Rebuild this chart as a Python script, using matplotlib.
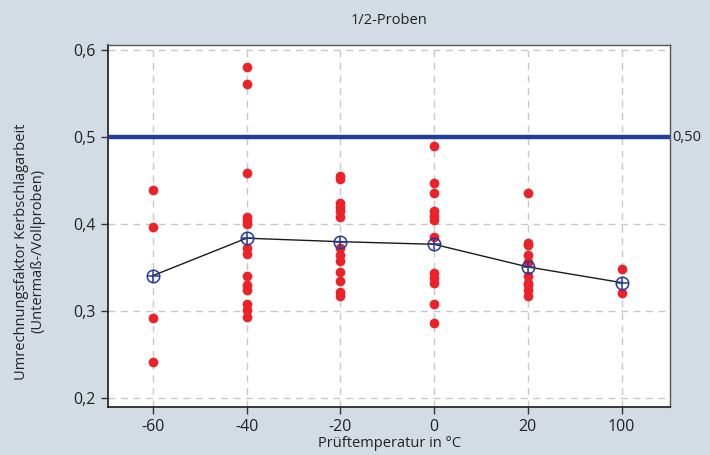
import matplotlib
matplotlib.use("Agg")
import matplotlib.pyplot as plt
from matplotlib.ticker import FuncFormatter

plt.rcParams['font.family'] = ['Open Sans', 'DejaVu Sans']

categories = ["-60", "-40", "-20", "0", "20", "100"]
values_m60 = [0.439, 0.397, 0.292, 0.242]
values_m40 = [0.581, 0.561, 0.459, 0.408, 0.404, 0.400, 0.373, 0.366, 0.340,
              0.330, 0.325, 0.308, 0.302, 0.293]
values_m20 = [0.456, 0.452, 0.425, 0.420, 0.415, 0.408, 0.373, 0.365, 0.358,
              0.345, 0.335, 0.322, 0.318]
values_0 = [0.490, 0.447, 0.436, 0.415, 0.410, 0.405, 0.385, 0.344, 0.338,
            0.332, 0.308, 0.287]
values_20 = [0.436, 0.379, 0.376, 0.365, 0.357, 0.340, 0.333, 0.330, 0.325, 0.318]
values_100 = [0.349, 0.321]
groups = [values_m60, values_m40, values_m20, values_0, values_20, values_100]
means = [0.341, 0.384, 0.380, 0.377, 0.351, 0.333]
reference = 0.50

bg = '#d3dce4'
fig = plt.figure(figsize=(7.1, 4.55), dpi=100, facecolor=bg)
ax = fig.add_axes([0.152, 0.1055, 0.792, 0.7955])
ax.set_facecolor('white')

for i, vals in enumerate(groups):
    ax.plot([i] * len(vals), vals, 'o', color='#ec2228', markersize=7,
            markeredgewidth=0, zorder=3)

xs = list(range(len(categories)))
ax.plot(xs, means, '-', color='#1a1a1a', lw=1.0, zorder=4)
ax.plot(xs, means, 'o', mfc='none', mec='#25399a', mew=1.1, markersize=9, zorder=5)
ax.plot(xs, means, '+', color='#25399a', mew=1.1, markersize=9, zorder=5)

ax.axhline(reference, color='#213e99', lw=3.2, zorder=6)
ax.text(1.003, reference, "0,50", transform=ax.get_yaxis_transform(),
        va='center', ha='left', fontsize=10.5, color='#222222')

ax.set_xticks(xs)
ax.set_xticklabels(categories)
ax.set_xlim(-0.48, 5.52)
ax.set_ylim(0.19, 0.606)
ax.set_yticks([0.2, 0.3, 0.4, 0.5, 0.6])
ax.yaxis.set_major_formatter(FuncFormatter(lambda v, p: f"{v:.1f}".replace('.', ',')))

ax.grid(True, color='#c8c8c8', ls=(0, (5, 4)), lw=1.0, zorder=0)
ax.set_axisbelow(True)
for s in ['left', 'bottom']:
    ax.spines[s].set_color('#1a1a1a')
    ax.spines[s].set_linewidth(1.2)
for s in ['top', 'right']:
    ax.spines[s].set_color('#555555')
    ax.spines[s].set_linewidth(1.0)
ax.tick_params(axis='both', direction='out', length=5, width=1, color='#333333',
               labelsize=11.5, labelcolor='#222222')

ax.set_title("1/2-Proben", fontsize=10.5, color='#222222', pad=15)
ax.set_xlabel("Prüftemperatur in °C", fontsize=10.5, color='#222222', labelpad=1)
ax.set_ylabel("Umrechnungsfaktor Kerbschlagarbeit\n(Untermaß-/Vollproben)",
              fontsize=10.5, color='#222222', linespacing=1.05)
ax.yaxis.set_label_coords(-0.112, 0.43)

fig.savefig("out.png", dpi=100, facecolor=bg)
